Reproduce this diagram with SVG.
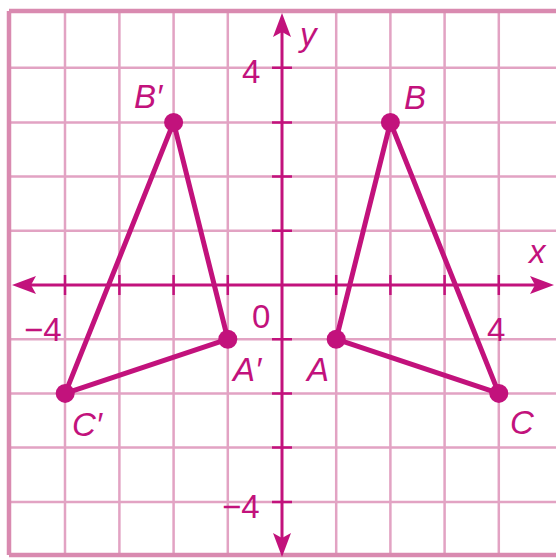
<svg xmlns="http://www.w3.org/2000/svg" width="556" height="559" viewBox="0 0 556 559">
<style>
.grid{stroke:#e2a3c3;stroke-width:2.5;fill:none}
.border{stroke:#d98ab0;stroke-width:4.5;fill:none}
.axis{stroke:#c2127c;stroke-width:3;fill:none}
.tick{stroke:#c2127c;stroke-width:2.5}
.tri{stroke:#c2127c;stroke-width:5;fill:none;stroke-linejoin:round}
.pt{fill:#c2127c}
.lbl{font-family:"Liberation Sans",Arial,sans-serif;font-style:italic;font-size:33px;fill:#c2127c}
.num{font-family:"Liberation Sans",Arial,sans-serif;font-size:33px;fill:#c2127c}
</style>
<rect width="556" height="559" fill="#ffffff"/>
<g id="grid">
<path class="grid" d="M65 11V555M119.4 11V555M173.6 11V555M227.8 11V555M336.2 11V555M390.4 11V555M444.6 11V555M498.8 11V555"/>
<path class="grid" d="M9 67.8H556M9 122.4H556M9 176.6H556M9 230.8H556M9 339.2H556M9 393.4H556M9 447.6H556M9 502H556"/>
<path class="border" d="M9 11H556M9 11V555M9 555H556"/>
</g>
<g id="axes">
<path class="axis" d="M30 285H535M282 32V538"/>
<path class="pt" d="M12 285L36 276L31 285L36 294Z"/>
<path class="pt" d="M554 285L530 276L535 285L530 294Z"/>
<path class="pt" d="M282 13L273 37L282 32L291 37Z"/>
<path class="pt" d="M282 557L273 533L282 538L291 533Z"/>
<path class="tick" d="M65 275V295M119.4 275V295M173.6 275V295M227.8 275V295M336.2 275V295M390.4 275V295M444.6 275V295M498.8 275V295"/>
<path class="tick" d="M272 67.8H292M272 122.4H292M272 176.6H292M272 230.8H292M272 339.2H292M272 393.4H292M272 447.6H292M272 502H292"/>
<text class="lbl" x="300" y="46">y</text>
<text class="lbl" x="529" y="263">x</text>
<text class="num" x="242" y="83">4</text>
<text class="num" x="252" y="328">0</text>
<text class="num" x="24" y="341">−4</text>
<text class="num" x="487" y="341">4</text>
<text class="num" x="222" y="518">−4</text>
</g>
<g id="connectors">
<path class="tri" d="M336.2 339.2L390.4 122.4L498.8 393.4Z"/>
<path class="tri" d="M227.8 339.2L173.6 122.4L65.2 393.4Z"/>
</g>
<g id="A"><circle class="pt" cx="336.2" cy="339.2" r="9.5"/><text class="lbl" x="307" y="381">A</text></g>
<g id="B"><circle class="pt" cx="390.4" cy="122.4" r="9.5"/><text class="lbl" x="404" y="109">B</text></g>
<g id="C"><circle class="pt" cx="498.8" cy="393.4" r="9.5"/><text class="lbl" x="510" y="434">C</text></g>
<g id="A-prime"><circle class="pt" cx="227.8" cy="339.2" r="9.5"/><text class="lbl" x="233" y="381">A′</text></g>
<g id="B-prime"><circle class="pt" cx="173.6" cy="122.4" r="9.5"/><text class="lbl" x="134" y="108">B′</text></g>
<g id="C-prime"><circle class="pt" cx="65.2" cy="393.4" r="9.5"/><text class="lbl" x="72" y="436">C′</text></g>
</svg>
